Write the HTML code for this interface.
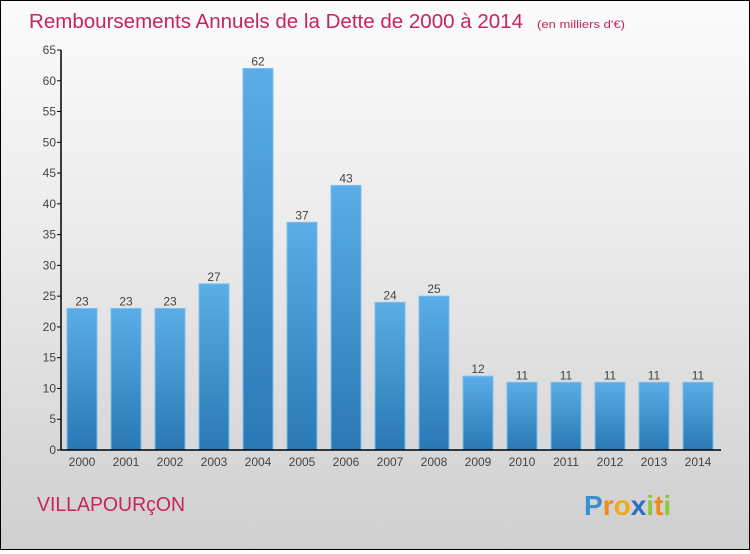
<!DOCTYPE html>
<html><head><meta charset="utf-8"><style>
html,body{margin:0;padding:0}
body{width:750px;height:550px;overflow:hidden;font-family:"Liberation Sans",sans-serif}
#wrap{position:absolute;left:0;top:0;width:748px;height:548px;border:1px solid #000;background:linear-gradient(#fbfbfb,#ececec 40%,#cfcfcf)}
</style></head><body>
<div id="wrap">
<svg id="chart" width="748" height="548"></svg>
</div>
<script>
const years=["2000","2001","2002","2003","2004","2005","2006","2007","2008","2009","2010","2011","2012","2013","2014"];
const values=[23,23,23,27,62,37,43,24,25,12,11,11,11,11,11];
const yTicks=[0,5,10,15,20,25,30,35,40,45,50,55,60,65];
const NS="http://www.w3.org/2000/svg";
const svg=document.getElementById('chart');
const x0=60,y0=449,yTop=49,yMax=65;
const y=v=>y0-(y0-yTop)*v/yMax;
const xBar=i=>66+i*44;
const bw=30;
function mk(t,a,txt){const e=document.createElementNS(NS,t);for(const k in a)e.setAttribute(k,a[k]);if(txt!==undefined)e.textContent=txt;svg.appendChild(e);return e;}
const defs=mk('defs',{});
defs.innerHTML='<linearGradient id="bg" x1="0" y1="0" x2="0" y2="1"><stop offset="0" stop-color="#5aade6"/><stop offset="1" stop-color="#2a78b6"/></linearGradient>';
const t=mk('text',{x:28,y:27,'font-size':20,fill:'#c8245c',textLength:494,lengthAdjust:'spacingAndGlyphs'},'Remboursements Annuels de la Dette de 2000 à 2014');


const st=mk('text',{x:536,y:27,'font-size':11,fill:'#c8245c',textLength:88,lengthAdjust:'spacingAndGlyphs'},'(en milliers d\'€)');


yTicks.forEach(v=>{
 const l=mk('line',{x1:x0-4,x2:x0,y1:y(v),y2:y(v),stroke:'#000'});
 
 
 const tx=mk('text',{x:x0-5,y:y(v)+4,'font-size':12,fill:'#444','text-anchor':'end'},String(v));
 
 
});
values.forEach((v,i)=>{
 const r=mk('rect',{x:xBar(i),y:y(v),width:bw,height:y0-y(v),fill:'url(#bg)',stroke:'#7cc0ee','stroke-width':1});
 
 
 const lb=mk('text',{x:xBar(i)+bw/2,y:y(v)-3,'font-size':12,fill:'#444','text-anchor':'middle'},String(v));
 
 
 const xl=mk('text',{x:xBar(i)+bw/2,y:y0+16,'font-size':12,fill:'#444','text-anchor':'middle'},years[i]);
 
 
});
const ya=mk('line',{x1:x0,x2:x0,y1:yTop,y2:y0,stroke:'#000','stroke-width':1.5});


const xa=mk('line',{x1:x0,x2:720,y1:y0,y2:y0,stroke:'#000','stroke-width':1.5});


const c=mk('text',{x:36,y:510,'font-size':20,fill:'#c8245c',textLength:148,lengthAdjust:'spacingAndGlyphs'},'VILLAPOURçON');


const logo=mk('text',{x:583,y:514,'font-size':28,'font-weight':'bold'},'');


logo.innerHTML='<tspan fill="#3a8fd0">P</tspan><tspan fill="#f08a1c">r</tspan><tspan fill="#f0a81c">o</tspan><tspan fill="#2a6fc0">x</tspan><tspan fill="#8cc83c">i</tspan><tspan fill="#f08a1c">t</tspan><tspan fill="#8cc83c">i</tspan>';
</script>
</body></html>
